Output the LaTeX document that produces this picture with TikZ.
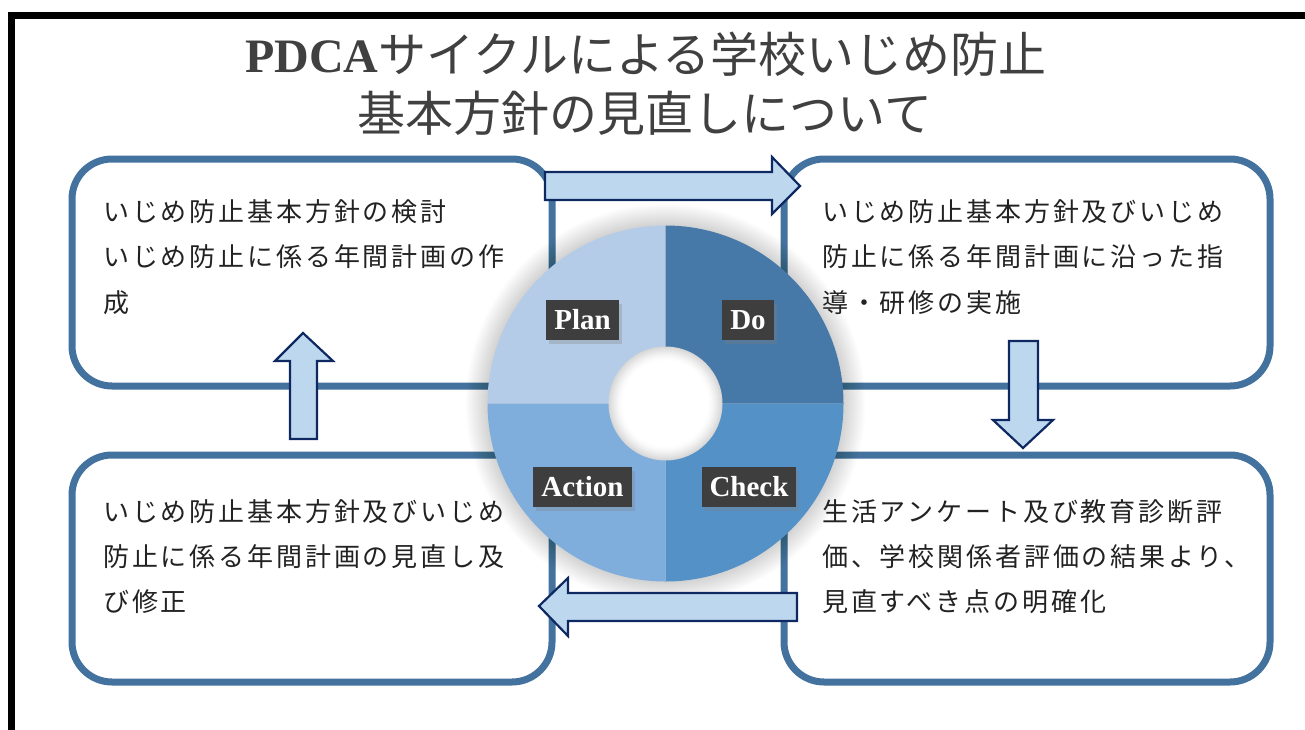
\documentclass[tikz,border=0pt]{standalone}
\usepackage{fontspec}
\usetikzlibrary{shadows}
\newfontfamily\jptitle{Noto Sans CJK JP}
\newfontfamily\jpbody[LetterSpace=11]{Noto Sans CJK JP}
\newfontfamily\labfont{Liberation Serif}
\definecolor{boxblue}{RGB}{68,114,158}
\definecolor{cplan}{RGB}{180,204,231}
\definecolor{cdo}{RGB}{70,120,168}
\definecolor{ccheck}{RGB}{84,145,199}
\definecolor{caction}{RGB}{127,173,220}
\definecolor{labgray}{RGB}{62,62,62}
\definecolor{arrfill}{RGB}{189,215,238}
\definecolor{arrline}{RGB}{14,40,98}
\definecolor{titlegray}{RGB}{64,64,64}
\definecolor{bodytext}{RGB}{34,34,34}
\tikzset{
  panel/.style={draw=boxblue, line width=7pt, rounded corners=40pt, inner sep=0pt},
  lbl/.style={fill=labgray, text=white, font=\labfont\bfseries\fontsize{29}{29}\selectfont,
    minimum height=40pt, inner xsep=8pt, inner ysep=0pt, text height=19pt, text depth=0pt,
    drop shadow={shadow xshift=3pt, shadow yshift=-4pt, opacity=.3}},
  blockarrow/.style={fill=arrfill, draw=arrline, line width=2.2pt, line join=miter},
  body/.style={anchor=base west, inner sep=0pt, text=bodytext, font=\jpbody\fontsize{26}{26}\selectfont},
  ttl/.style={anchor=base, inner sep=0pt, text=titlegray, font=\fontsize{48}{48}\selectfont}
}
\begin{document}
\begin{tikzpicture}[x=1pt,y=-1pt]
\useasboundingbox (0,0) rectangle (1305,729);
% outer frame
\draw[line width=7pt, line join=miter] (11.5,740) -- (11.5,15.5) -- (1320,15.5);
% title
\node[ttl] (t1) at (646,72) {{\labfont\bfseries PDCA}{\jptitle サイクルによる学校いじめ防止}};
\node[ttl] (t2) at (645,131) {\jptitle 基本方針の見直しについて};
% panels
\node[panel, minimum width=480pt, minimum height=227pt] (pTL) at (312,272.5) {};
\node[panel, minimum width=486pt, minimum height=227pt] (pTR) at (1027,272.5) {};
\node[panel, minimum width=480pt, minimum height=227pt] (pBL) at (312,568.5) {};
\node[panel, minimum width=486pt, minimum height=227pt] (pBR) at (1027,568.5) {};
% soft halo around circle
\coordinate (C) at (665.5,403.5);
\foreach \i in {0,...,22}
  \fill[black, opacity=0.007] (C) circle (200-\i);
% sectors
\fill[cplan] (C) -- ++(180:178) arc[start angle=180, end angle=270, radius=178] -- cycle;
\fill[cdo] (C) -- ++(270:178) arc[start angle=270, end angle=360, radius=178] -- cycle;
\fill[ccheck] (C) -- ++(0:178) arc[start angle=0, end angle=90, radius=178] -- cycle;
\fill[caction] (C) -- ++(90:178) arc[start angle=90, end angle=180, radius=178] -- cycle;
% hole
\foreach \i [evaluate=\i as \p using 16*((14-\i)/14)^1.5] in {0,...,14}
  \fill[black!\p] (C) circle (57-\i);
\fill[white] (C) circle (43);
% labels
\node[lbl] (plan) at (582.5,320) {Plan};
\node[lbl] (do) at (748,320) {Do};
\node[lbl] (action) at (582.5,487) {Action};
\node[lbl] (check) at (749,487) {Check};
% block arrows
\draw[blockarrow] (545,172) -- (772,172) -- (772,157) -- (800,186) -- (772,214) -- (772,200) -- (545,200) -- cycle;
\draw[blockarrow] (1009,341) -- (1038,341) -- (1038,420) -- (1053,420) -- (1023,448) -- (993,420) -- (1009,420) -- cycle;
\draw[blockarrow] (797,593) -- (568,593) -- (568,578) -- (539,606) -- (568,636) -- (568,621) -- (797,621) -- cycle;
\draw[blockarrow] (290,439) -- (290,361) -- (275,361) -- (303,333) -- (333,361) -- (317,361) -- (317,439) -- cycle;
% texts
\node[body] (a1) at (103,221) {いじめ防止基本方針の検討};
\node[body] (a2) at (103,266) {いじめ防止に係る年間計画の作};
\node[body] (a3) at (103,312) {成};
\node[body] (b1) at (822,221) {いじめ防止基本方針及びいじめ};
\node[body] (b2) at (822,266) {防止に係る年間計画に沿った指};
\node[body] (b3) at (822,312) {導・研修の実施};
\node[body] (c1) at (822,521) {生活アンケート及び教育診断評};
\node[body] (c2) at (822,566) {価、学校関係者評価の結果より、};
\node[body] (c3) at (822,611) {見直すべき点の明確化};
\node[body] (d1) at (103,521) {いじめ防止基本方針及びいじめ};
\node[body] (d2) at (103,566) {防止に係る年間計画の見直し及};
\node[body] (d3) at (103,611) {び修正};
\end{tikzpicture}
\end{document}
